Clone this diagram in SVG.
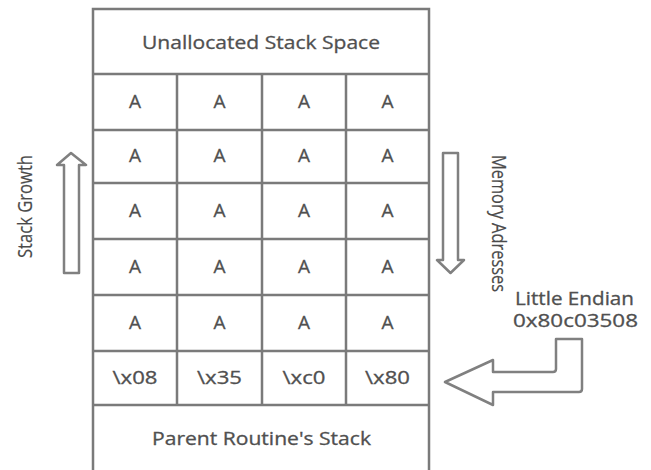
<svg xmlns="http://www.w3.org/2000/svg" width="651" height="470" viewBox="0 0 651 470">
<style>
.grid{fill:none;stroke:#7a7a7a;stroke-width:2.5}
.arrow{fill:#fff;stroke:#808080;stroke-width:2.5;stroke-linejoin:round}
.t{font-family:"Open Sans",Lato,sans-serif;font-size:18px;fill:#505050;stroke:#505050;stroke-width:0.3;text-anchor:middle}
.a{font-size:19px}
.c{font-family:"Open Sans",sans-serif;font-size:20px;fill:#4a4a4a;stroke:#4a4a4a;stroke-width:0.2;text-anchor:middle}
</style>
<rect width="651" height="470" fill="#fff"/>
<g id="stack">
<rect class="grid" x="93" y="9" width="336" height="464"/>
<line class="grid" x1="93" y1="74" x2="429" y2="74"/>
<line class="grid" x1="93" y1="130" x2="429" y2="130"/>
<line class="grid" x1="93" y1="183" x2="429" y2="183"/>
<line class="grid" x1="93" y1="239" x2="429" y2="239"/>
<line class="grid" x1="93" y1="295" x2="429" y2="295"/>
<line class="grid" x1="93" y1="351" x2="429" y2="351"/>
<line class="grid" x1="93" y1="405" x2="429" y2="405"/>
<line class="grid" x1="177" y1="74" x2="177" y2="405"/>
<line class="grid" x1="262" y1="74" x2="262" y2="405"/>
<line class="grid" x1="346" y1="74" x2="346" y2="405"/>
<text class="t" x="261" y="49" textLength="238" lengthAdjust="spacingAndGlyphs">Unallocated Stack Space</text>
<g class="t">
<g class="a">
<text x="135" y="108">A</text><text x="219.5" y="108">A</text><text x="304" y="108">A</text><text x="387.5" y="108">A</text>
<text x="135" y="162">A</text><text x="219.5" y="162">A</text><text x="304" y="162">A</text><text x="387.5" y="162">A</text>
<text x="135" y="217">A</text><text x="219.5" y="217">A</text><text x="304" y="217">A</text><text x="387.5" y="217">A</text>
<text x="135" y="273">A</text><text x="219.5" y="273">A</text><text x="304" y="273">A</text><text x="387.5" y="273">A</text>
<text x="135" y="329">A</text><text x="219.5" y="329">A</text><text x="304" y="329">A</text><text x="387.5" y="329">A</text>
</g>
<text x="135" y="384" textLength="45" lengthAdjust="spacingAndGlyphs">\x08</text><text x="219.5" y="384" textLength="45" lengthAdjust="spacingAndGlyphs">\x35</text><text x="304" y="384" textLength="43" lengthAdjust="spacingAndGlyphs">\xc0</text><text x="387.5" y="384" textLength="45" lengthAdjust="spacingAndGlyphs">\x80</text>
</g>
<text class="t" x="261.5" y="445" textLength="219" lengthAdjust="spacingAndGlyphs">Parent Routine's Stack</text>
</g>
<g id="stack-growth">
<path class="arrow" d="M64,273 L64,165 L57,165 L71,153 L86,165 L79,165 L79,273 Z"/>
<text class="c" transform="translate(32,206.5) rotate(-90)" textLength="103" lengthAdjust="spacingAndGlyphs">Stack Growth</text>
</g>
<g id="memory-addresses">
<path class="arrow" d="M443,153 L458,153 L458,260 L464,260 L450.5,273 L437,260 L443,260 Z"/>
<text class="c" transform="translate(492,223.5) rotate(90)" textLength="137" lengthAdjust="spacingAndGlyphs" font-size="19">Memory Adresses</text>
</g>
<g id="little-endian">
<text class="t" x="574.5" y="305" textLength="119" lengthAdjust="spacingAndGlyphs">Little Endian</text>
<text class="t" x="575.5" y="327" textLength="125" lengthAdjust="spacingAndGlyphs">0x80c03508</text>
<path class="arrow" d="M445,382 L493,360 L493,372 L553,372 Q556,372 556,369 L556,339 L582,339 L582,389 Q582,392 579,392 L493,392 L493,405 Z"/>
</g>
</svg>
